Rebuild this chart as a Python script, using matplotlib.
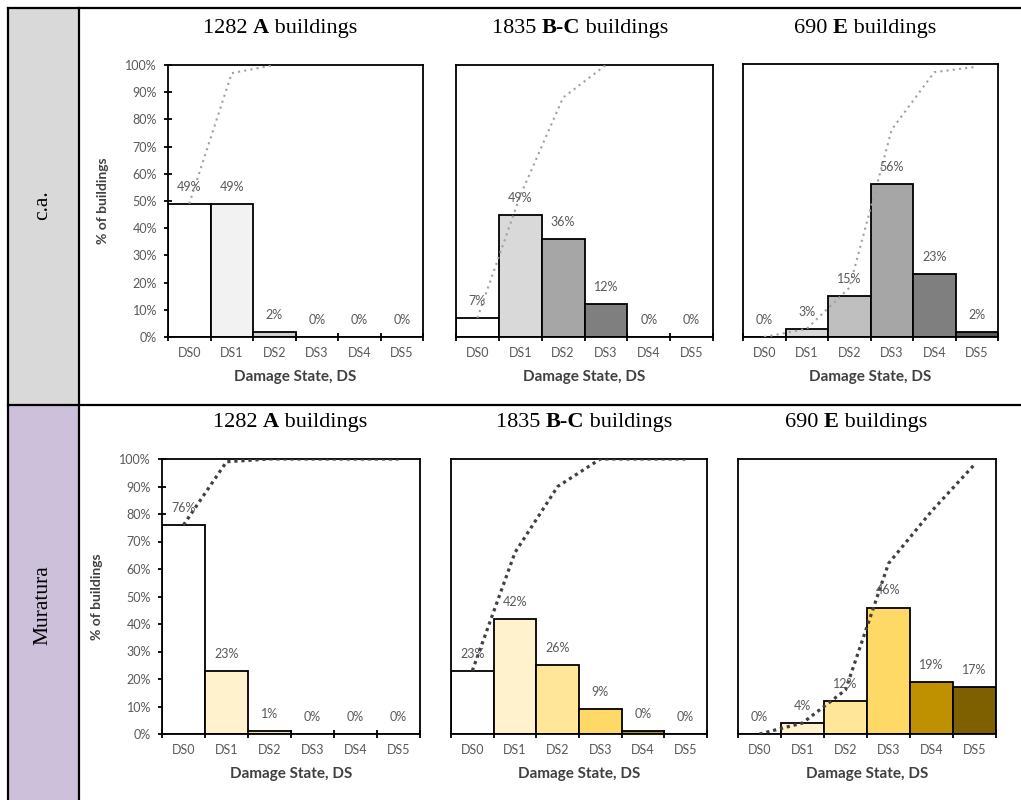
import matplotlib
matplotlib.use("Agg")
import matplotlib.pyplot as plt
import numpy as np

plt.rcParams['font.family'] = ['Lato', 'DejaVu Sans']

W, H = 1021, 800

states = ['DS0', 'DS1', 'DS2', 'DS3', 'DS4', 'DS5']
# title pieces: (count, bold class)
counts = ['1282', '1835', '690']
classes = ['A', 'B-C', 'E']
row_names = ['c.a.', 'Muratura']

# c.a. row
ca_a = [49, 49, 2, 0, 0, 0]
ca_bc = [7, 45, 36, 12, 0, 0]
ca_e = [0, 3, 15, 56, 23, 2]
ca_a_lab = ['49%', '49%', '2%', '0%', '0%', '0%']
ca_bc_lab = ['7%', '49%', '36%', '12%', '0%', '0%']
ca_e_lab = ['0%', '3%', '15%', '56%', '23%', '2%']
ca_a_cum = [49, 97, 100]
ca_bc_cum = [7, 52, 88, 100]
ca_e_cum = [0, 3, 18, 76, 97, 99]

# muratura row
mu_a = [76, 23, 1, 0, 0, 0]
mu_bc = [23, 42, 25, 9, 1, 0]
mu_e = [0, 4, 12, 46, 19, 17]
mu_a_lab = ['76%', '23%', '1%', '0%', '0%', '0%']
mu_bc_lab = ['23%', '42%', '26%', '9%', '0%', '0%']
mu_e_lab = ['0%', '4%', '12%', '46%', '19%', '17%']
mu_a_cum = [76, 99, 100, 100, 100, 100]
mu_bc_cum = [23, 66, 90, 100, 100, 100]
mu_e_cum = [0, 4, 16, 62, 81, 98]

ca_a_col = ['white', '#f2f2f2', '#d0d0d0', '#bfbfbf', '#a6a6a6', '#808080']
ca_bc_col = ['white', '#d9d9d9', '#a6a6a6', '#7f7f7f', '#595959', '#404040']
ca_e_col = ['white', '#d9d9d9', '#bfbfbf', '#a6a6a6', '#7f7f7f', '#595959']
mu_col = ['white', '#fff2cc', '#ffe699', '#ffd966', '#bf9000', '#7f6000']

panels = [
    (ca_a, ca_a_lab, ca_a_cum, ca_a_col, (168, 65, 423, 337), 0),
    (ca_bc, ca_bc_lab, ca_bc_cum, ca_bc_col, (456, 65, 713, 337), 0),
    (ca_e, ca_e_lab, ca_e_cum, ca_e_col, (743, 64, 998, 337), 0),
    (mu_a, mu_a_lab, mu_a_cum, mu_col, (162, 459, 420, 734), 1),
    (mu_bc, mu_bc_lab, mu_bc_cum, mu_col, (451, 459, 707, 734), 1),
    (mu_e, mu_e_lab, mu_e_cum, mu_col, (738, 459, 996, 734), 1),
]

fig = plt.figure(figsize=(W / 100, H / 100), dpi=100)
renderer = fig.canvas.get_renderer()


def px(x, y):
    return x / W, 1 - y / H


def title(cx, cy, parts, size=16):
    # draw text pieces side by side (regular / bold), centred on cx
    arts = []
    for s, w in parts:
        arts.append(fig.text(0, 0, s, family='Liberation Serif', fontweight=w,
                             fontsize=size, va='baseline', ha='left'))
    widths = [a.get_window_extent(renderer).width for a in arts]
    x0 = cx - sum(widths) / 2
    for a, wd in zip(arts, widths):
        a.set_position(px(x0, cy))
        x0 += wd


# table background and lines
fig.patches.append(plt.Rectangle(px(8, 404), 70 / W, 396 / H, transform=fig.transFigure,
                                 facecolor='#d9d9d9', edgecolor='none', zorder=0))
fig.patches.append(plt.Rectangle(px(8, 800), 70 / W, 394 / H, transform=fig.transFigure,
                                 facecolor='#ccc0da', edgecolor='none', zorder=0))
for (x0, y0, x1, y1) in [(8, 8, 1021, 8), (8, 405, 1021, 405), (8, 8, 8, 800), (79, 8, 79, 800)]:
    a, b = px(x0, y0)
    c, d = px(x1, y1)
    fig.add_artist(plt.Line2D([a, c], [b, d], transform=fig.transFigure, color='black', lw=1.6))

fig.text(*px(43, 205), row_names[0], rotation=90, ha='center', va='center',
         family='Liberation Serif', fontsize=15.5)
fig.text(*px(43, 605), row_names[1], rotation=90, ha='center', va='center',
         family='Liberation Serif', fontsize=15.5)

top_x = [280, 580, 865]
bot_x = [290, 584, 856]
for i in range(3):
    parts = [(counts[i] + ' ', 'normal'), (classes[i], 'bold'), (' buildings', 'normal')]
    title(top_x[i], 33, parts)
    title(bot_x[i], 427, parts)

x = np.arange(6) + 0.5
for k, (vals, labs, cum, cols, box, row) in enumerate(panels):
    l, t, r, b = box
    ax = fig.add_axes([l / W, 1 - b / H, (r - l) / W, (b - t) / H])
    ax.bar(x, vals, width=1.0, color=cols, edgecolor='black', linewidth=1.3, zorder=2)
    for xi, v, s in zip(x, vals, labs):
        ax.text(xi, v + 4, s, ha='center', va='bottom', fontsize=9, color='#595959', zorder=4)
    if row == 0:
        ax.plot(x[:len(cum)], cum, linestyle=(0, (1, 2)), color='#a0a0a0', lw=1.5, zorder=3)
    else:
        ax.plot(x[:len(cum)], cum, linestyle=(0, (1, 1.2)), color='#404040', lw=2.3, zorder=3)
    ax.set_xlim(0, 6)
    ax.set_ylim(0, 100)
    ax.set_xticks(np.arange(7))
    ax.set_xticklabels([])
    ax.set_xticks(x, minor=True)
    ax.set_xticklabels(states, minor=True, fontsize=9, color='#595959')
    ax.tick_params(axis='x', which='major', direction='inout', length=6, width=1.3)
    ax.tick_params(axis='x', which='minor', length=0, pad=7)
    if k % 3 == 0:
        ax.set_yticks(np.arange(0, 101, 10))
        ax.set_yticklabels([f'{v}%' for v in range(0, 101, 10)], fontsize=9, color='#595959')
        ax.tick_params(axis='y', direction='inout', length=6, width=1.3, pad=5)
        ax.set_ylabel('% of buildings', fontsize=10, fontweight='bold', color='#404040', labelpad=12)
    else:
        ax.set_yticks([])
    ax.set_xlabel('Damage State, DS', fontsize=11, fontweight='bold', color='#404040', labelpad=8)
    for sp in ax.spines.values():
        sp.set_linewidth(1.3)

fig.savefig('out.png', dpi=100)
